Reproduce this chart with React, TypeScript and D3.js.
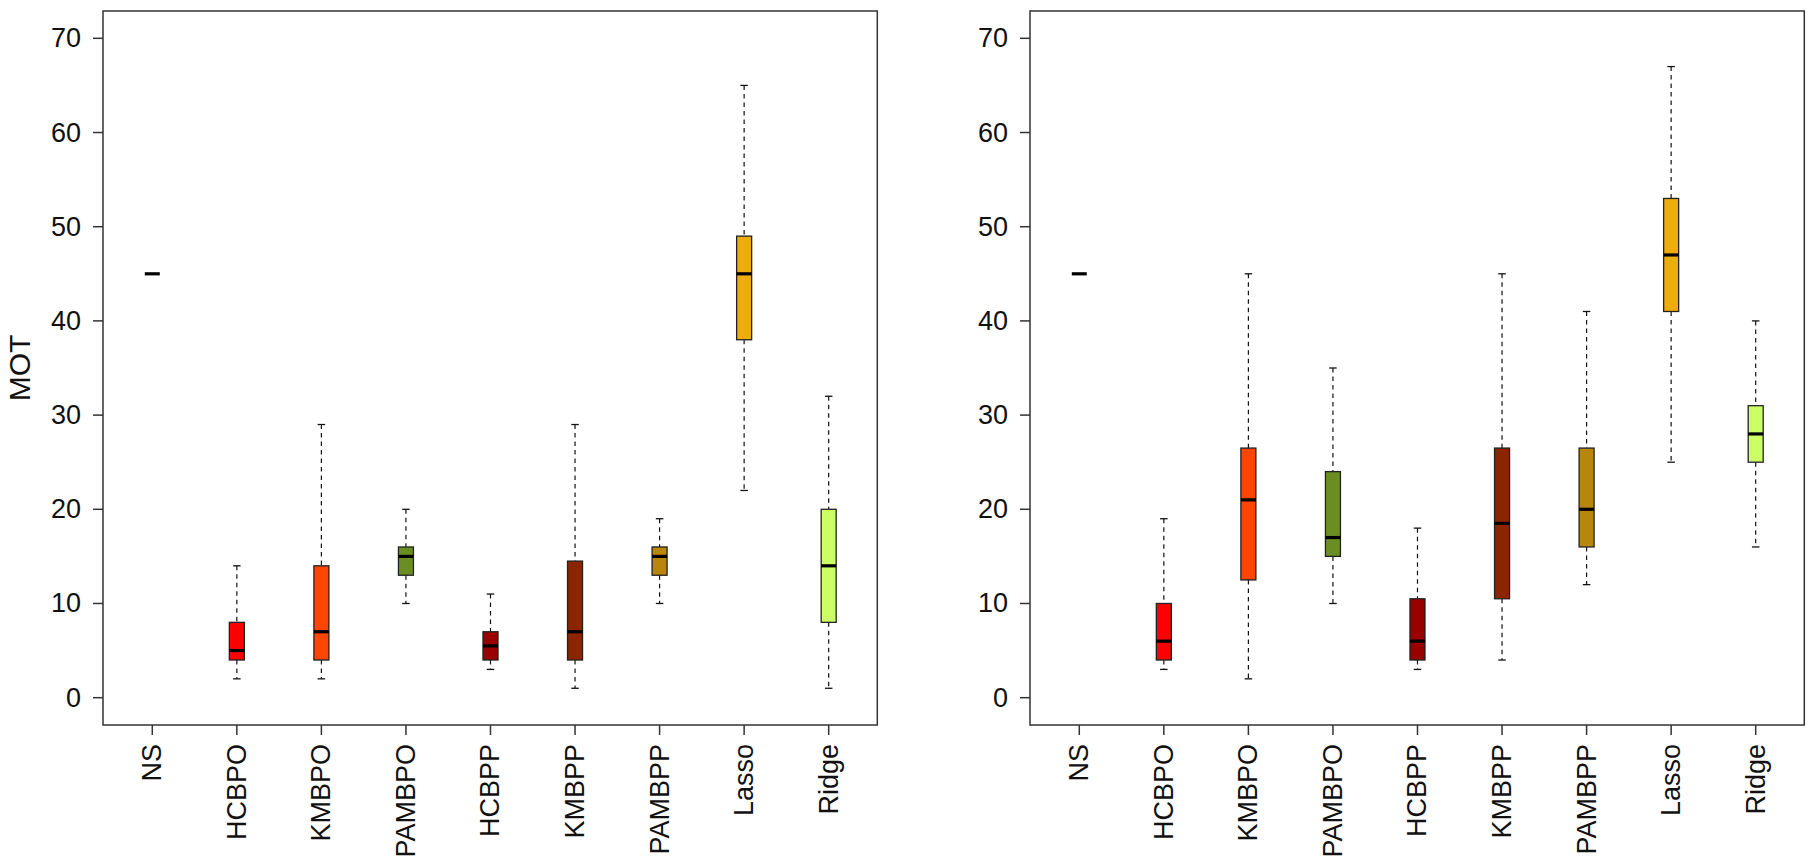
import React from "react";
import * as d3 from "d3";

const categories = ["NS", "HCBPO", "KMBPO", "PAMBPO", "HCBPP", "KMBPP", "PAMBPP", "Lasso", "Ridge"];
const colors = ["#000000", "#FF0000", "#FF4500", "#6B8E23", "#990000", "#8B2500", "#B8860B", "#EEAD0E", "#CCFF66"];

// [lowerWhisker, Q1, median, Q3, upperWhisker]
const leftStats: number[][] = [
  [45, 45, 45, 45, 45],
  [2, 4, 5, 8, 14],
  [2, 4, 7, 14, 29],
  [10, 13, 15, 16, 20],
  [3, 4, 5.5, 7, 11],
  [1, 4, 7, 14.5, 29],
  [10, 13, 15, 16, 19],
  [22, 38, 45, 49, 65],
  [1, 8, 14, 20, 32],
];
const rightStats: number[][] = [
  [45, 45, 45, 45, 45],
  [3, 4, 6, 10, 19],
  [2, 12.5, 21, 26.5, 45],
  [10, 15, 17, 24, 35],
  [3, 4, 6, 10.5, 18],
  [4, 10.5, 18.5, 26.5, 45],
  [12, 16, 20, 26.5, 41],
  [25, 41, 47, 53, 67],
  [16, 25, 28, 31, 40],
];
const yTicks = [0, 10, 20, 30, 40, 50, 60, 70];
const yLabel = "MOT";

const FONT = "'Liberation Sans', Arial, Helvetica, sans-serif";

function Panel({ left, stats, showLabel }: { left: number; stats: number[][]; showLabel: boolean }) {
  const width = 774.3;
  const top = 11;
  const bottom = 725;
  const right = left + width;
  const x = d3.scaleLinear().domain([0.417, 9.575]).range([left, right]);
  const y = d3.scaleLinear().domain([-2.9, 72.9]).range([bottom, top]);
  const boxW = 15;
  const stapleW = 7.5;
  return (
    <g>
      {stats.map((s, i) => {
        const cx = x(i + 1);
        const [lo, q1, med, q3, hi] = s;
        const degenerate = lo === hi;
        if (degenerate) {
          return (
            <line key={i} x1={cx - boxW / 2} x2={cx + boxW / 2} y1={y(med)} y2={y(med)} stroke="#000" strokeWidth={3.2} />
          );
        }
        return (
          <g key={i}>
            <line x1={cx} x2={cx} y1={y(hi)} y2={y(q3)} stroke="#111" strokeWidth={1.2} strokeDasharray="4.5,4" />
            <line x1={cx} x2={cx} y1={y(q1)} y2={y(lo)} stroke="#111" strokeWidth={1.2} strokeDasharray="4.5,4" />
            <line x1={cx - stapleW / 2} x2={cx + stapleW / 2} y1={y(hi)} y2={y(hi)} stroke="#111" strokeWidth={1.3} />
            <line x1={cx - stapleW / 2} x2={cx + stapleW / 2} y1={y(lo)} y2={y(lo)} stroke="#111" strokeWidth={1.3} />
            <rect x={cx - boxW / 2} y={y(q3)} width={boxW} height={y(q1) - y(q3)} fill={colors[i]} stroke="#222" strokeWidth={1.3} />
            <line x1={cx - boxW / 2} x2={cx + boxW / 2} y1={y(med)} y2={y(med)} stroke="#000" strokeWidth={3.2} />
          </g>
        );
      })}
      <rect x={left} y={top} width={width} height={bottom - top} fill="none" stroke="#333" strokeWidth={1.5} />
      {yTicks.map((t) => (
        <g key={t}>
          <line x1={left - 10} x2={left} y1={y(t)} y2={y(t)} stroke="#333" strokeWidth={1.5} />
          <text x={left - 22} y={y(t)} textAnchor="end" dominantBaseline="central" fontSize={27} fontFamily={FONT} fill="#111">
            {t}
          </text>
        </g>
      ))}
      {categories.map((c, i) => (
        <g key={c}>
          <line x1={x(i + 1)} x2={x(i + 1)} y1={bottom} y2={bottom + 10} stroke="#333" strokeWidth={1.5} />
          <text
            transform={`translate(${x(i + 1)},${bottom + 19}) rotate(-90)`}
            textAnchor="end"
            dominantBaseline="central"
            fontSize={27}
            fontFamily={FONT}
            fill="#111"
          >
            {c}
          </text>
        </g>
      ))}
      {showLabel && (
        <text
          transform={`translate(${left - 84},${(top + bottom) / 2}) rotate(-90)`}
          textAnchor="middle"
          dominantBaseline="central"
          fontSize={30}
          fontFamily={FONT}
          fill="#111"
        >
          {yLabel}
        </text>
      )}
    </g>
  );
}

export default function App() {
  return (
    <svg width={1810} height={868} style={{ position: "absolute", left: 0, top: 0, background: "#fff" }}>
      <rect width={1810} height={868} fill="#fff" />
      <Panel left={103} stats={leftStats} showLabel={true} />
      <Panel left={1030} stats={rightStats} showLabel={false} />
    </svg>
  );
}
